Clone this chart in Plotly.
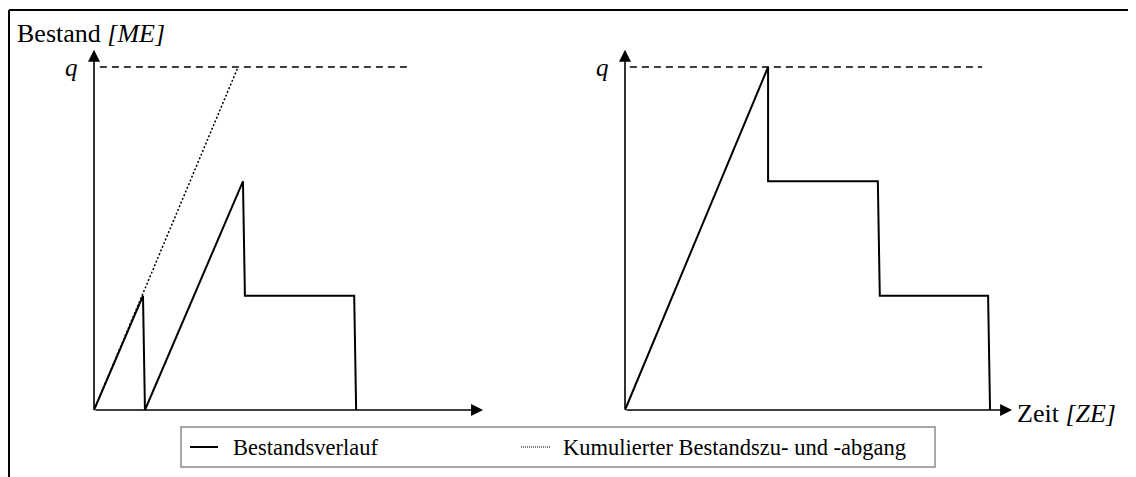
import plotly.graph_objects as go

# ---------------- data (diagram units: stock in ME, time in ZE) ----------------
Q = 3
left_time = [0, 1.0, 1.04, 3.04, 3.08, 5.31, 5.35]
left_stock = [0, 1, 0, 2, 1, 1, 0]
left_cum_time = [0, 2.94]
left_cum_stock = [0, 3]
right_time = [0, 2.92, 2.92, 5.16, 5.2, 7.41, 7.45]
right_stock = [0, 3, 2, 2, 1, 1, 0]
q_line_left = [0.12, 6.45]
q_line_right = [0.1, 7.29]
x_axis_end = [7.94, 7.9]
y_axis_end = 3.15

legend_names = ["Bestandsverlauf", "Kumulierter Bestandszu- und -abgang"]
y_label = "Bestand <i>[ME]</i>"
x_label = "Zeit <i>[ZE]</i>"

# ---------------- layout geometry ----------------
OFF = 8  # page body margin
W, H = 1136 - OFF, 477 - OFF
PX_PER_T = 49.0
PX_PER_V = 343.0 / 3
ORIG_Y = 410
ORIG_X = [94, 625]
XR = [-0.3, 8.2]
YR = [-0.2, 3.3]


def px(x):
    return (x - OFF) / W


def py(y):
    return 1 - (y - OFF) / H


ydom = [py(ORIG_Y - YR[0] * PX_PER_V), py(ORIG_Y - YR[1] * PX_PER_V)]
xdoms = [[px(o + XR[0] * PX_PER_T), px(o + XR[1] * PX_PER_T)] for o in ORIG_X]

FONT = "Liberation Serif"
fig = go.Figure()

solid = dict(color="black", width=2)
dashed = dict(color="black", width=1.5, dash="7px,5px")
# left panel
fig.add_trace(go.Scatter(x=left_time, y=left_stock, mode="lines", line=solid,
                         name=legend_names[0], xaxis="x", yaxis="y", showlegend=False))
fig.add_trace(go.Scatter(x=left_cum_time, y=left_cum_stock, mode="lines",
                         line=dict(color="black", width=1.5, dash="2px,2px"),
                         name=legend_names[1], xaxis="x", yaxis="y", showlegend=False))
fig.add_trace(go.Scatter(x=q_line_left, y=[Q, Q], mode="lines", line=dashed,
                         xaxis="x", yaxis="y", showlegend=False, hoverinfo="skip"))
# right panel
fig.add_trace(go.Scatter(x=right_time, y=right_stock, mode="lines", line=solid,
                         name=legend_names[0], xaxis="x2", yaxis="y2", showlegend=False))
fig.add_trace(go.Scatter(x=q_line_right, y=[Q, Q], mode="lines", line=dashed,
                         xaxis="x2", yaxis="y2", showlegend=False, hoverinfo="skip"))

ax_common = dict(visible=False, range=XR, fixedrange=True)
fig.update_layout(
    width=W, height=H, margin=dict(l=0, r=0, t=0, b=0),
    paper_bgcolor="white", plot_bgcolor="white",
    xaxis=dict(domain=xdoms[0], anchor="y", **ax_common),
    xaxis2=dict(domain=xdoms[1], anchor="y2", **ax_common),
    yaxis=dict(domain=ydom, anchor="x", visible=False, range=YR),
    yaxis2=dict(domain=ydom, anchor="x2", visible=False, range=YR),
    showlegend=False,
)

annotations = []
# axis arrows
for i, (xa, ya) in enumerate([("x", "y"), ("x2", "y2")]):
    annotations.append(dict(x=x_axis_end[i], y=0, ax=0, ay=0, xref=xa, yref=ya,
                            axref=xa, ayref=ya, text="", showarrow=True,
                            arrowhead=2, arrowsize=1.5, arrowwidth=1.6, arrowcolor="black"))
    annotations.append(dict(x=0, y=y_axis_end, ax=0, ay=0, xref=xa, yref=ya,
                            axref=xa, ayref=ya, text="", showarrow=True,
                            arrowhead=2, arrowsize=1.5, arrowwidth=1.6, arrowcolor="black"))
    annotations.append(dict(x=-0.28, y=Q, xref=xa, yref=ya, text="<i>q</i>",
                            showarrow=False, xanchor="right", yanchor="middle",
                            font=dict(family=FONT, size=25, color="black")))

annotations.append(dict(x=px(15), y=py(34), xref="paper", yref="paper", text=y_label,
                        showarrow=False, xanchor="left", yanchor="middle",
                        font=dict(family=FONT, size=26, color="black")))
annotations.append(dict(x=px(1015), y=py(413), xref="paper", yref="paper", text=x_label,
                        showarrow=False, xanchor="left", yanchor="middle",
                        font=dict(family=FONT, size=26, color="black")))
# legend texts
annotations.append(dict(x=px(231), y=py(447), xref="paper", yref="paper", text=legend_names[0],
                        showarrow=False, xanchor="left", yanchor="middle",
                        font=dict(family=FONT, size=22.5, color="black")))
annotations.append(dict(x=px(561), y=py(447), xref="paper", yref="paper", text=legend_names[1],
                        showarrow=False, xanchor="left", yanchor="middle",
                        font=dict(family=FONT, size=22.5, color="black")))

shapes = [
    # outer frame (top and left edges visible)
    dict(type="line", xref="paper", yref="paper", x0=px(9), x1=1.02, y0=py(10), y1=py(10),
         line=dict(color="black", width=2)),
    dict(type="line", xref="paper", yref="paper", x0=px(9), x1=px(9), y0=py(10), y1=-0.02,
         line=dict(color="black", width=2)),
    # legend box
    dict(type="rect", xref="paper", yref="paper", x0=px(181), x1=px(935), y0=py(427), y1=py(467),
         line=dict(color="#8a8a8a", width=1.5), fillcolor="white", layer="below"),
    # legend samples
    dict(type="line", xref="paper", yref="paper", x0=px(190), x1=px(218), y0=py(447), y1=py(447),
         line=dict(color="black", width=2)),
    dict(type="line", xref="paper", yref="paper", x0=px(521), x1=px(550), y0=py(447), y1=py(447),
         line=dict(color="black", width=1, dash="1px,1px")),
]
fig.update_layout(annotations=annotations, shapes=shapes)

fig.write_html("out.html")
